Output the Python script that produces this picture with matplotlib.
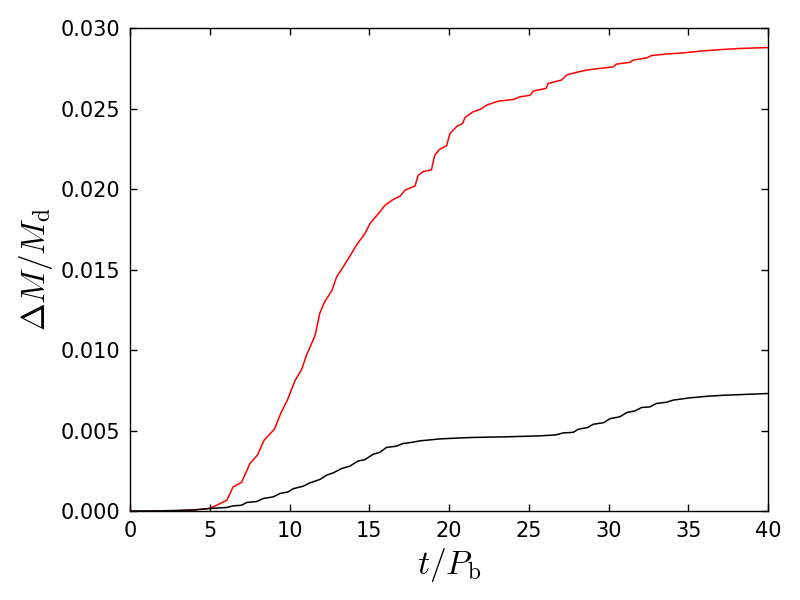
import numpy as np
import matplotlib
matplotlib.use('Agg')
import matplotlib.pyplot as plt

# red curve
t_red = [0, 1, 2, 3, 4, 4.5, 5.0, 5.5, 6.07, 6.46, 7.0, 7.52, 8.0, 8.4, 9.06, 9.46, 9.87,
         10.34, 10.76, 11.07, 11.6, 11.9, 12.2, 12.65, 12.96, 13.37, 13.7, 14.2, 14.73,
         15.05, 15.67, 15.99, 16.5, 16.93, 17.24, 17.87, 18.07, 18.4, 18.9, 19.1, 19.4,
         19.85, 20.06, 20.48, 20.85, 21.0, 21.5, 21.94, 22.36, 23.09, 24.03, 24.45, 25.08,
         25.29, 26.08, 26.22, 27.06, 27.37, 28.0, 28.63, 29.25, 30.3, 30.5, 31.35, 31.55,
         32.4, 32.7, 33.64, 34.5, 35.7, 37.0, 38.2, 40.0]
dm_red = [0, 0, 0.00001, 0.00003, 0.00008, 0.00012, 0.00018, 0.0004, 0.00068, 0.0015,
          0.0018, 0.00296, 0.0035, 0.0044, 0.0051, 0.0061, 0.0069,
          0.0081, 0.0088, 0.0097, 0.0109, 0.0123, 0.0130, 0.0137, 0.01456, 0.01518, 0.0157,
          0.01653, 0.01725, 0.01787, 0.0186, 0.0190, 0.01936, 0.01957, 0.01994, 0.0202,
          0.02087, 0.0211, 0.0212, 0.0221, 0.02247, 0.0227, 0.02346, 0.0239, 0.02408,
          0.02445, 0.0248, 0.02495, 0.02522, 0.02547, 0.02557, 0.02574, 0.02583, 0.0261,
          0.02626, 0.02657, 0.02678, 0.02709, 0.02726, 0.0274, 0.02748, 0.0276, 0.02777,
          0.02788, 0.02802, 0.02816, 0.0283, 0.0284, 0.02845, 0.02857, 0.02867, 0.02874,
          0.0288]

# black curve
t_blk = [0, 2, 4, 5.0, 6.06, 6.46, 7.0, 7.31, 7.94, 8.36, 8.98, 9.4, 9.92, 10.24, 10.86,
         11.28, 11.9, 12.33, 12.74, 13.27, 13.79, 14.3, 14.73, 15.25, 15.67, 16.08, 16.71,
         17.1, 17.76, 18.18, 19.44, 20.7, 21.5, 23.6, 25.7, 26.7, 27.15, 27.8, 28.1, 28.7,
         29.04, 29.7, 30.1, 30.7, 31.15, 31.66, 32.07, 32.6, 33.0, 33.64, 34.06, 35.1,
         36.2, 37.2, 40.0]
dm_blk = [0, 0.00002, 0.00008, 0.00017, 0.00023, 0.00033, 0.00037, 0.00054, 0.0006,
          0.00079, 0.00089, 0.0011, 0.0012, 0.0014, 0.00155, 0.00176, 0.00197, 0.00224,
          0.00238, 0.00265, 0.0028, 0.00312, 0.0032, 0.00354, 0.00366, 0.00396, 0.00404,
          0.0042, 0.00429, 0.00437, 0.00449, 0.00455, 0.00458, 0.00462, 0.00468, 0.00474,
          0.00486, 0.0049, 0.00509, 0.0052, 0.0054, 0.0055, 0.00575, 0.00586, 0.00613,
          0.00623, 0.00644, 0.00648, 0.00669, 0.00677, 0.0069, 0.00704, 0.00714, 0.0072,
          0.00731]

plt.rcParams['mathtext.fontset'] = 'cm'
plt.rcParams['xtick.direction'] = 'in'
plt.rcParams['ytick.direction'] = 'in'
plt.rcParams['xtick.top'] = True
plt.rcParams['ytick.right'] = True

fig = plt.figure(figsize=(8, 6), dpi=100)
ax = fig.add_axes([0.1625, 0.148, 0.7975, 0.805])

ax.plot(t_red, dm_red, color='red', lw=1.1)
ax.plot(t_blk, dm_blk, color='black', lw=1.1)

ax.set_xlim(0, 40)
ax.set_ylim(0, 0.030)
ax.set_xticks(np.arange(0, 41, 5))
ax.set_yticks(np.arange(0, 0.0301, 0.005))
ax.yaxis.set_major_formatter(matplotlib.ticker.FormatStrFormatter('%.3f'))
ax.tick_params(labelsize=15, length=5, width=1, pad=7)
for s in ax.spines.values():
    s.set_linewidth(1.0)

ax.set_xlabel(r'$t/P_{\rm b}$', fontsize=24)
ax.set_ylabel(r'$\Delta M/M_{\rm d}$', fontsize=24)

plt.savefig('out.png', format='png')
